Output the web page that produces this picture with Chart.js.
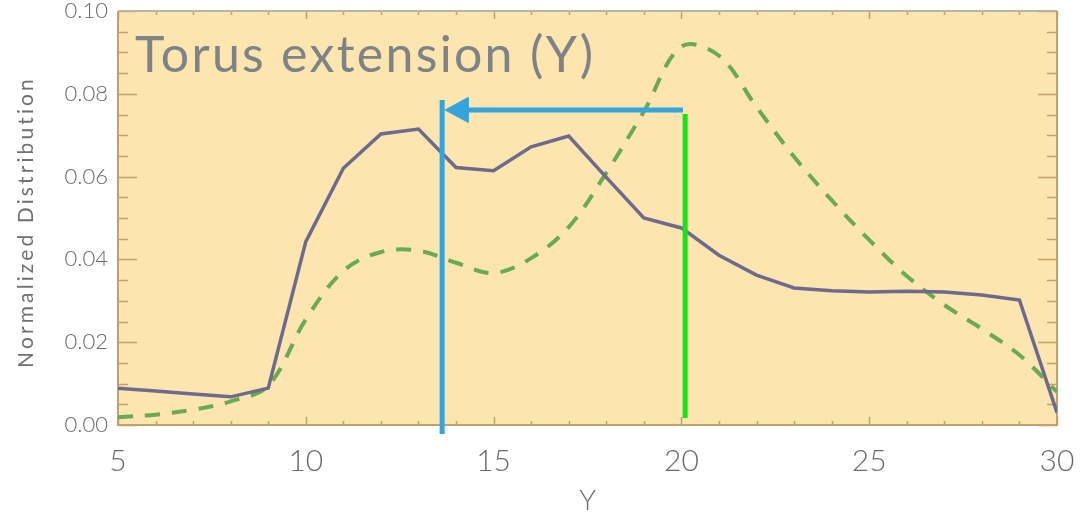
<!DOCTYPE html>
<html><head><meta charset="utf-8">
<script src="https://cdn.jsdelivr.net/npm/chart.js@4/dist/chart.umd.min.js"></script>
<style>html,body{margin:0;padding:0;background:#fff}#wrap{width:1080px;height:519px;position:relative}</style>
</head><body><div id="wrap"><canvas id="c" width="1080" height="519"></canvas></div>
<script>
// ---- data ----
const yPositions = [5,6,7,8,9,10,11,12,13,14,15,16,17,18,19,20,21,22,23,24,25,26,27,28,29,30];
const solidDist  = [0.0089,0.0082,0.0075,0.0068,0.0089,0.0443,0.0620,0.0703,0.0715,0.0622,0.0614,0.0672,0.0698,0.0598,0.0500,0.0476,0.0410,0.0362,0.0331,0.0324,0.0321,0.0323,0.0321,0.0314,0.0302,0.0030];
const dashedDist = [0.0019,0.0025,0.0037,0.0057,0.0095,0.0255,0.0372,0.0418,0.0421,0.0392,0.0367,0.0403,0.0478,0.0609,0.0757,0.0914,0.0892,0.0768,0.0648,0.0543,0.0447,0.0360,0.0290,0.0232,0.0169,0.0080];
const yTickLabels = ['0.00','0.02','0.04','0.06','0.08','0.10'];
const xTickLabels = ['5','10','15','20','25','30'];
const titleText = 'Torus extension (Y)';
const xAxisTitle = 'Y';
const yAxisTitle = 'Normalized Distribution';
// annotation markers (data units)
const blueLineX = [13.63, 13.63];
const blueLineY = [0.0785, -0.0022];
const arrowShaftX = [20.04, 14.30];
const arrowShaftY = [0.0761, 0.0761];
const arrowHeadX = [13.71, 14.32, 14.32, 13.71];
const arrowHeadY = [0.0761, 0.0791, 0.0731, 0.0761];
const greenLineX = [20.10, 20.10];
const greenLineY = [0.0751, 0.0017];

const pts = (xs, ys) => xs.map((x, i) => ({x, y: ys[i]}));

const TAN = '#c2a266';
const bgPlugin = {
  id: 'bg',
  beforeDraw(chart) {
    const {ctx, chartArea: a} = chart;
    ctx.save();
    ctx.fillStyle = '#fff';
    ctx.fillRect(0, 0, chart.width, chart.height);
    ctx.fillStyle = '#fce5af';
    ctx.fillRect(a.left, a.top, a.right - a.left, a.bottom - a.top);
    ctx.restore();
  },
  beforeDatasetsDraw(chart) {
    const {ctx, chartArea: a, scales: {x, y}} = chart;
    ctx.save();
    ctx.lineWidth = 1.5;
    ctx.strokeStyle = TAN;
    for (let v = 5; v <= 30; v += 1) {
      const px = Math.round(x.getPixelForValue(v)) + 0.5;
      const len = (v % 5 === 0) ? 8 : 4;
      ctx.beginPath();
      ctx.moveTo(px, a.bottom); ctx.lineTo(px, a.bottom - len);
      ctx.moveTo(px, a.top); ctx.lineTo(px, a.top + len);
      ctx.stroke();
    }
    for (let i = 0; i <= 20; i++) {
      const v = i * 0.005;
      const py = Math.round(y.getPixelForValue(v)) + 0.5;
      const len = (i % 4 === 0) ? 19 : 10;
      ctx.beginPath();
      ctx.moveTo(a.left, py); ctx.lineTo(a.left + len, py);
      ctx.moveTo(a.right, py); ctx.lineTo(a.right - len, py);
      ctx.stroke();
    }
    ctx.lineWidth = 2;
    ctx.strokeStyle = '#b9b4a8';
    ctx.beginPath(); ctx.moveTo(a.left, a.top); ctx.lineTo(a.right, a.top); ctx.stroke();
    ctx.strokeStyle = TAN;
    ctx.beginPath(); ctx.moveTo(a.left, a.top); ctx.lineTo(a.left, a.bottom); ctx.lineTo(a.right, a.bottom); ctx.lineTo(a.right, a.top); ctx.stroke();
    ctx.restore();
  },
  afterDraw(chart) {
    const {ctx, chartArea: a} = chart;
    ctx.save();
    ctx.font = '400 50px Lato';
    ctx.fillStyle = '#7e8387';
    ctx.textBaseline = 'alphabetic';
    ctx.textAlign = 'left';
    let w = ctx.measureText(titleText).width;
    ctx.letterSpacing = ((458 - w) / (titleText.length - 1)).toFixed(2) + 'px';
    ctx.fillText(titleText, 135, 72);
    ctx.letterSpacing = '0px';
    ctx.font = '400 21px Lato';
    ctx.fillStyle = '#707070';
    w = ctx.measureText(yAxisTitle).width;
    ctx.letterSpacing = ((289 - w) / (yAxisTitle.length - 1)).toFixed(2) + 'px';
    ctx.translate(26, 222);
    ctx.rotate(-Math.PI / 2);
    ctx.textAlign = 'center';
    ctx.textBaseline = 'middle';
    ctx.fillText(yAxisTitle, 0, 0);
    ctx.restore();
    ctx.save();
    ctx.font = '300 28px Lato';
    ctx.fillStyle = '#6e6e6e';
    ctx.textAlign = 'center';
    ctx.textBaseline = 'middle';
    ctx.fillText(xAxisTitle, (a.left + a.right) / 2, 501);
    ctx.restore();
  }
};

new Chart(document.getElementById('c'), {
  type: 'line',
  data: {
    datasets: [
      {data: pts(yPositions, solidDist), borderColor: '#6e6a8e', borderWidth: 3.5, pointRadius: 0, tension: 0, order: 2},
      {data: pts(yPositions, dashedDist), borderColor: '#6aaa52', borderWidth: 4, borderDash: [15, 12], pointRadius: 0, tension: 0.35, order: 3},
      {data: pts(blueLineX, blueLineY), borderColor: '#36a4dc', borderWidth: 5, pointRadius: 0, clip: false, order: 1},
      {data: pts(arrowShaftX, arrowShaftY), borderColor: '#36a4dc', borderWidth: 5, pointRadius: 0, borderCapStyle: 'butt', clip: false, order: 1},
      {data: pts(arrowHeadX, arrowHeadY), borderColor: '#36a4dc', backgroundColor: '#36a4dc', borderWidth: 1, pointRadius: 0, fill: 'shape', clip: false, order: 1},
      {data: pts(greenLineX, greenLineY), borderColor: '#14e614', borderWidth: 5, pointRadius: 0, clip: false, order: 1}
    ]
  },
  options: {
    responsive: false,
    animation: false,
    events: [],
    layout: {padding: {top: 11, right: 23, left: 0, bottom: 0}},
    plugins: {legend: {display: false}, tooltip: {enabled: false}},
    scales: {
      x: {
        type: 'linear', min: 5, max: 30,
        grid: {display: false, drawTicks: false},
        border: {display: false},
        ticks: {stepSize: 5, padding: 18, color: '#6a6a6a', font: {family: 'Lato', weight: '300', size: 30},
                callback: (v) => xTickLabels[xTickLabels.indexOf(String(v))] ?? ''},
        afterFit: (s) => { s.height = 94; s.paddingLeft = 0; s.paddingRight = 0; }
      },
      y: {
        min: 0, max: 0.1,
        grid: {display: false, drawTicks: false},
        border: {display: false},
        ticks: {stepSize: 0.02, padding: 10, color: '#6a6a6a', font: {family: 'Lato', weight: '300', size: 22},
                callback: (v) => yTickLabels[Math.round(v / 0.02)]},
        afterFit: (s) => { s.width = 118; s.paddingTop = 0; s.paddingBottom = 0; }
      }
    }
  },
  plugins: [bgPlugin]
});
</script>
</body></html>
